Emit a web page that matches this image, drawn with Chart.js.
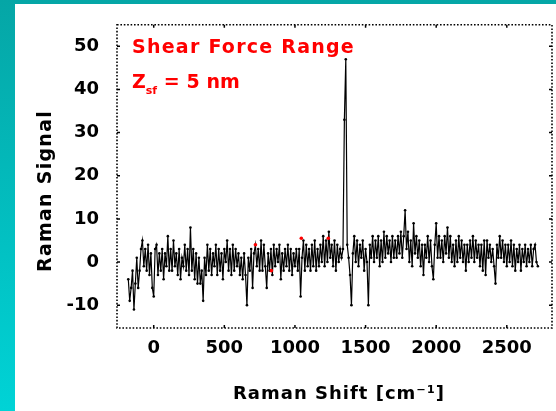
<!DOCTYPE html>
<html><head><meta charset="utf-8">
<script src="https://cdn.jsdelivr.net/npm/chart.js@4"></script>
<style>
html,body{margin:0;padding:0;}
body{width:556px;height:411px;overflow:hidden;background:linear-gradient(to bottom,#05a6a6,#00d3d6);position:relative;}
#panel{position:absolute;left:15px;top:4px;width:541px;height:407px;background:#fff;}
canvas{display:block;}
</style></head><body>
<div id="panel"><canvas id="c" width="541" height="407"></canvas></div>
<script>
const shift = [
-180,-170,-160,-150,-140,-130,-120,-110,-100,-90,
-80,-70,-60,-50,-40,-30,-20,-10,0,10,
20,30,40,50,60,70,80,90,100,110,
120,130,140,150,160,170,180,190,200,210,
220,230,240,250,260,270,280,290,300,310,
320,330,340,350,360,370,380,390,400,410,
420,430,440,450,460,470,480,490,500,510,
520,530,540,550,560,570,580,590,600,610,
620,630,640,650,660,670,680,690,700,710,
720,730,740,750,760,770,780,790,800,810,
820,830,840,850,860,870,880,890,900,910,
920,930,940,950,960,970,980,990,1000,1010,
1020,1030,1040,1050,1060,1070,1080,1090,1100,1110,
1120,1130,1140,1150,1160,1170,1180,1190,1200,1210,
1220,1230,1240,1250,1260,1270,1280,1290,1300,1310,
1320,1330,1340,1350,1360,1370,1380,1390,1400,1410,
1420,1430,1440,1450,1460,1470,1480,1490,1500,1510,
1520,1530,1540,1550,1560,1570,1580,1590,1600,1610,
1620,1630,1640,1650,1660,1670,1680,1690,1700,1710,
1720,1730,1740,1750,1760,1770,1780,1790,1800,1810,
1820,1830,1840,1850,1860,1870,1880,1890,1900,1910,
1920,1930,1940,1950,1960,1970,1980,1990,2000,2010,
2020,2030,2040,2050,2060,2070,2080,2090,2100,2110,
2120,2130,2140,2150,2160,2170,2180,2190,2200,2210,
2220,2230,2240,2250,2260,2270,2280,2290,2300,2310,
2320,2330,2340,2350,2360,2370,2380,2390,2400,2410,
2420,2430,2440,2450,2460,2470,2480,2490,2500,2510,
2520,2530,2540,2550,2560,2570,2580,2590,2600,2610,
2620,2630,2640,2650,2660,2670,2680,2690,2700,2710,
2720];
const signal = [
-4,-9,-6,-2,-11,-5,1,-6,-2,3,
5,-1,3,-2,4,-3,2,-6,-8,3,
4,-3,2,-2,3,-4,2,-1,6,-2,
3,-2,5,-1,2,-3,3,-4,1,-1,
4,-2,3,-3,8,-2,3,-4,2,-5,
1,-5,-2,-9,1,-3,4,-2,3,-3,
2,-1,4,-3,3,-2,2,-4,3,0,
5,-2,3,-3,4,-2,3,-1,2,-3,
1,-4,2,-3,-10,1,-2,3,-6,2,
4,-1,3,-2,5,-2,4,-1,-6,2,
-2,3,-3,4,-1,3,0,4,-4,2,
-2,3,-1,4,-2,3,-3,2,-1,3,
-2,3,-8,1,5,-2,4,-1,3,-2,
4,-1,5,-2,3,-1,4,0,6,-1,
5,0,7,1,4,-1,5,-2,4,0,
3,1,3,33,47,4,1,-3,-10,2,
6,0,5,-1,4,1,5,-2,3,0,
-10,4,1,6,0,5,1,6,-1,5,
0,7,1,6,2,5,0,6,1,5,
1,6,2,7,1,6,12,3,7,0,
5,-1,9,2,6,1,5,-1,4,-3,
4,1,6,0,5,-1,-4,4,9,1,
6,1,5,0,6,2,8,1,6,0,
4,-1,5,0,6,1,5,0,4,-2,
4,0,5,1,6,0,5,1,4,-1,
4,-2,5,-3,5,1,4,0,3,-1,
-5,4,1,6,1,5,0,4,-1,4,
0,5,-1,4,-2,3,0,4,-2,3,
0,4,-1,3,0,4,-1,3,4,0,
-1];
const markerShift = [720, 833, 1045, 1236];
const markerSignal = [4, -2, 5.5, 5.5];
const xTickValues = [0, 500, 1000, 1500, 2000, 2500];
const yTickValues = [-10, 0, 10, 20, 30, 40, 50];
const xTitle = 'Raman Shift [cm\u207B\u00B9]';
const yTitle = 'Raman Signal';
const note1 = 'Shear Force Range';
const noteZ = 'Z', noteSub = 'sf', noteRest = ' = 5 nm';

const FAM = '"DejaVu Sans", sans-serif';

function fitSpacing(ctx, text, target){
  ctx.letterSpacing = '0px';
  const w = ctx.measureText(text).width;
  ctx.letterSpacing = ((target - w) / text.length) + 'px';
}

const decor = {
  id: 'decor',
  afterDatasetsDraw(chart){
    const {ctx, chartArea: a, scales: {x, y}} = chart;
    ctx.save();
    ctx.strokeStyle = '#000';
    ctx.lineWidth = 1.6;
    ctx.setLineDash([1.6, 1.8]);
    ctx.strokeRect(a.left, a.top, a.right - a.left, a.bottom - a.top);
    ctx.setLineDash([]);
    ctx.lineWidth = 1.5;
    ctx.beginPath();
    x.ticks.forEach(t => {
      const px = x.getPixelForValue(t.value);
      ctx.moveTo(px, a.bottom); ctx.lineTo(px, a.bottom - 3);
      ctx.moveTo(px, a.top); ctx.lineTo(px, a.top + 3);
    });
    y.ticks.forEach(t => {
      const py = y.getPixelForValue(t.value);
      ctx.moveTo(a.left, py); ctx.lineTo(a.left + 3, py);
      ctx.moveTo(a.right, py); ctx.lineTo(a.right - 3, py);
    });
    ctx.stroke();

    // axis titles
    ctx.fillStyle = '#000';
    ctx.textAlign = 'center';
    ctx.textBaseline = 'alphabetic';
    ctx.font = 'bold 18px ' + FAM;
    fitSpacing(ctx, xTitle, 212);
    ctx.fillText(xTitle, 324, 395);
    ctx.save();
    ctx.translate(36, 187);
    ctx.rotate(-Math.PI / 2);
    ctx.font = 'bold 19px ' + FAM;
    fitSpacing(ctx, yTitle, 162);
    ctx.fillText(yTitle, 0, 0);
    ctx.restore();
    ctx.letterSpacing = '0px';

    // red notes
    ctx.fillStyle = '#ff0000';
    ctx.textAlign = 'left';
    ctx.font = 'bold 19px ' + FAM;
    fitSpacing(ctx, note1, 223);
    ctx.fillText(note1, 117, 49);
    ctx.letterSpacing = '0px';
    let cx = 117;
    ctx.font = 'bold 19px ' + FAM;
    ctx.fillText(noteZ, cx, 84);
    cx += ctx.measureText(noteZ).width;
    ctx.font = 'bold 11px ' + FAM;
    ctx.fillText(noteSub, cx, 90);
    cx += ctx.measureText(noteSub).width;
    ctx.font = 'bold 19px ' + FAM;
    fitSpacing(ctx, noteRest, 225 - cx);
    ctx.fillText(noteRest, cx, 84);
    ctx.letterSpacing = '0px';
    ctx.restore();
  }
};

new Chart(document.getElementById('c'), {
  type: 'line',
  data: {
    datasets: [
      {
        data: shift.map((v, i) => ({x: v, y: signal[i]})),
        borderColor: '#000',
        borderWidth: 1.2,
        pointRadius: 1.3,
        pointBackgroundColor: '#000',
        pointBorderWidth: 0,
        tension: 0,
        fill: false,
        order: 2
      },
      {
        data: markerShift.map((v, i) => ({x: v, y: markerSignal[i]})),
        showLine: false,
        pointRadius: 1.8,
        pointBackgroundColor: '#ff0000',
        pointBorderWidth: 0,
        order: 1
      }
    ]
  },
  options: {
    responsive: false,
    animation: false,
    devicePixelRatio: 1,
    layout: {padding: {top: 17, right: 4, left: 0, bottom: 0}},
    plugins: {legend: {display: false}, tooltip: {enabled: false}},
    scales: {
      x: {
        type: 'linear',
        min: -260, max: 2820,
        afterBuildTicks: s => { s.ticks = xTickValues.map(v => ({value: v})); },
        afterFit: s => { s.height = 83; },
        grid: {display: false},
        border: {display: false},
        ticks: {color: '#000', padding: 2, maxRotation: 0, autoSkip: false,
                callback: v => String(v),
                font: {family: FAM, size: 18, weight: 'bold'}},
        title: {display: false}
      },
      y: {
        min: -15.3, max: 55,
        afterBuildTicks: s => { s.ticks = yTickValues.map(v => ({value: v})); },
        afterFit: s => { s.width = 102; },
        grid: {display: false},
        border: {display: false},
        ticks: {color: '#000', padding: 10, autoSkip: false,
                callback: v => String(v),
                font: {family: FAM, size: 18, weight: 'bold'}},
        title: {display: false}
      }
    }
  },
  plugins: [decor]
});
</script>
</body></html>
